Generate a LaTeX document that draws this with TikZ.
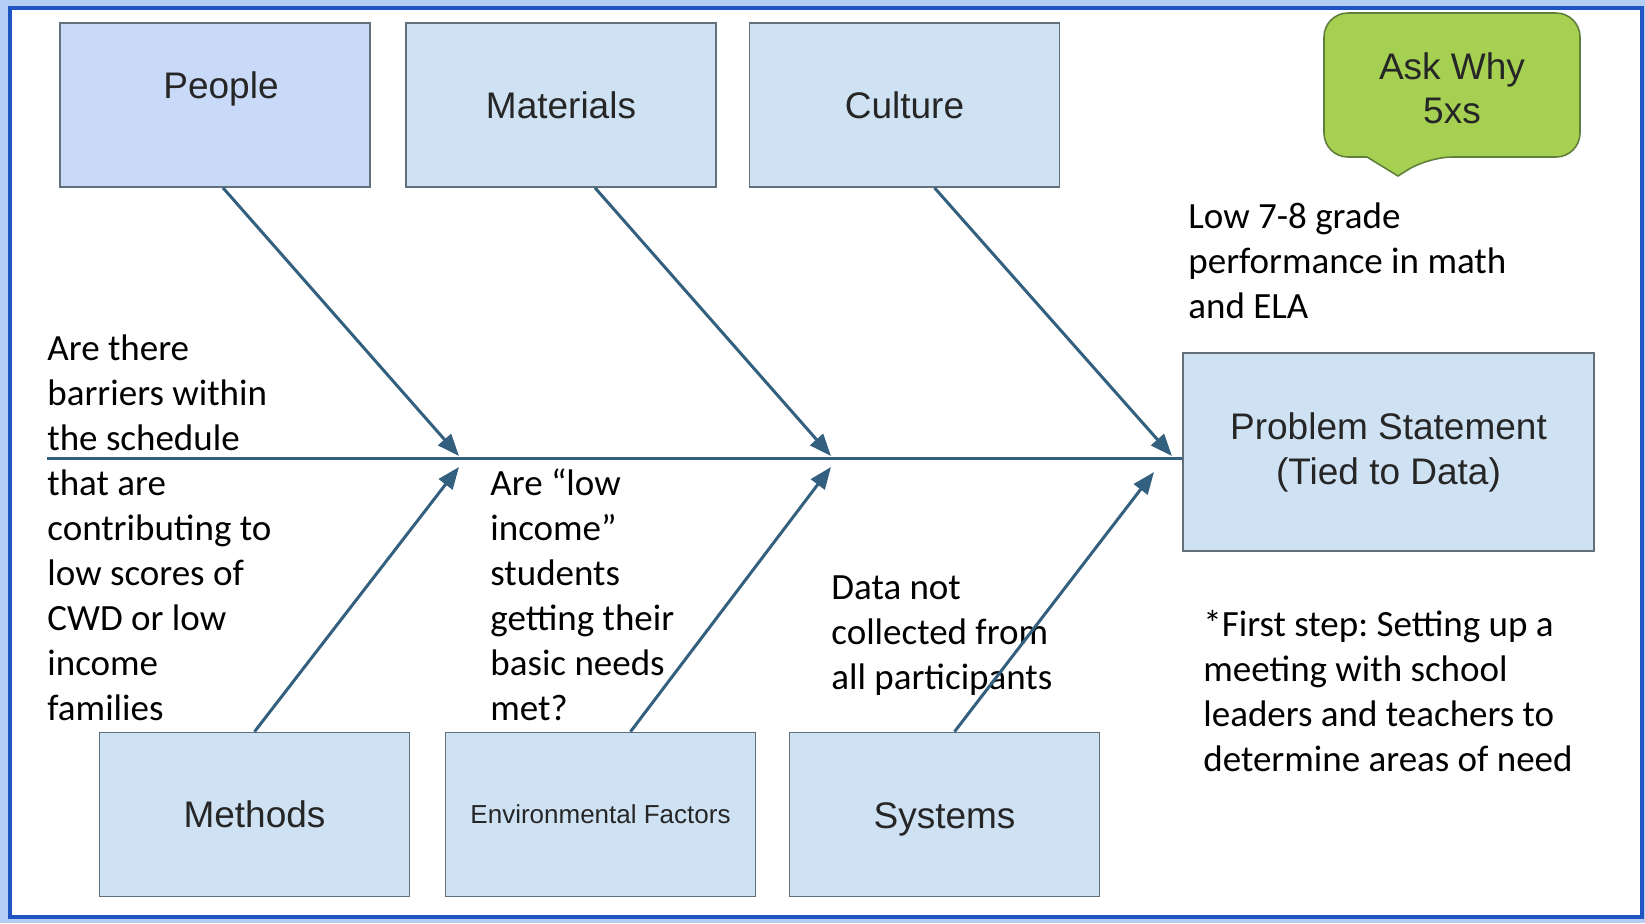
\documentclass[tikz,border=0pt]{standalone}
\usepackage{fontspec}
\setmainfont{Carlito}
\newfontfamily\arialfont{Liberation Sans}
\usetikzlibrary{arrows.meta}
\frenchspacing
\definecolor{framebg}{HTML}{B4CDF4}
\definecolor{frameline}{HTML}{1F55C0}
\definecolor{peoplefill}{HTML}{C9DAF8}
\definecolor{catfill}{HTML}{CFE2F3}
\definecolor{catline}{HTML}{62707C}
\definecolor{bonecol}{HTML}{33607F}
\definecolor{askfill}{HTML}{A6D052}
\definecolor{askline}{HTML}{5F7F3A}
\begin{document}
\begin{tikzpicture}[x=0.5pt,y=-0.5pt,
    catbox/.style={rectangle,draw=catline,line width=0.8pt,fill=catfill,minimum width=155pt,minimum height=82pt,inner sep=0pt,font=\arialfont\fontsize{18.5}{22.5}\selectfont,text=black!85},
    bone/.style={draw=bonecol,line width=1.5pt,-{Triangle[length=11pt,width=8.5pt]}},
    note/.style={anchor=base west,align=left,inner sep=0pt,font=\fontsize{18.5}{22.5}\selectfont}]
  \useasboundingbox (0,0) rectangle (1645,923);
  % frame
  \fill[framebg] (0,0) rectangle (1645,923);
  \draw[frameline,line width=2pt,fill=white] (10,8) rectangle (1642,917);

  % category boxes
  \node[catbox,fill=peoplefill,text depth=20pt,text width=155pt,align=center] (people) at (215,105) {\hspace*{6pt}People};
  \node[catbox] (materials) at (561,105) {Materials};
  \node[catbox] (culture) at (904.5,105) {Culture};
  \node[catbox] (methods) at (254.5,814.5) {Methods};
  \node[catbox,font=\arialfont\fontsize{13}{15}\selectfont] (envfac) at (600.5,814.5) {Environmental Factors};
  \node[catbox,text height=17.5pt] (systems) at (944.5,814.5) {Systems};
  \node[catbox,minimum width=205.5pt,minimum height=99pt,align=center] (problem) at (1388.5,452) {Problem Statement\\(Tied to Data)};

  % callout
  \draw[askline,fill=askfill,line width=0.8pt,rounded corners=12pt] (1324,13) -- (1580,13) -- (1580,157) -- (1428,157) [sharp corners] -- (1398,176) -- (1367,157) [rounded corners=12pt] -- (1324,157) -- cycle;
  \node[align=center,font=\arialfont\fontsize{18.5}{22}\selectfont,text=black!85] (ask) at (1452,88) {Ask Why\\5xs};

  % notes (placed by the baseline of their last line)
  \node[note] (barriers) at (47,720) {Are there\\barriers within\\the schedule\\that are\\contributing to\\low scores of\\CWD or low\\income\\families};
  \node[note] (lowincome) at (490,720) {Are “low\\income”\\students\\getting their\\basic needs\\met?};
  \node[note] (datanot) at (831,689) {Data not\\collected from\\all participants};
  \node[note] (lowgrade) at (1188,318) {Low 7-8 grade\\performance in math\\and ELA};
  \node[note] (firststep) at (1203,771) {*First step: Setting up a\\meeting with school\\leaders and teachers to\\determine areas of need};

  % spine and bones
  \coordinate (tail) at (47,458);
  \draw[bonecol,line width=1.5pt] (tail) -- (tail -| problem.west);
  \coordinate (tip1) at (459,456);
  \coordinate (tip2) at (831,456);
  \coordinate (tip3) at (1172,456);
  \coordinate (tip4) at (459,467);
  \coordinate (tip5) at (831,467);
  \coordinate (tip6) at (1154,472);
  \draw[bone] ([xshift=4pt]people.south) -- (tip1);
  \draw[bone] ([xshift=17pt]materials.south) -- (tip2);
  \draw[bone] ([xshift=15pt]culture.south) -- (tip3);
  \draw[bone] (methods.north) -- (tip4);
  \draw[bone] ([xshift=15pt]envfac.north) -- (tip5);
  \draw[bone] ([xshift=5pt]systems.north) -- (tip6);
\end{tikzpicture}
\end{document}
